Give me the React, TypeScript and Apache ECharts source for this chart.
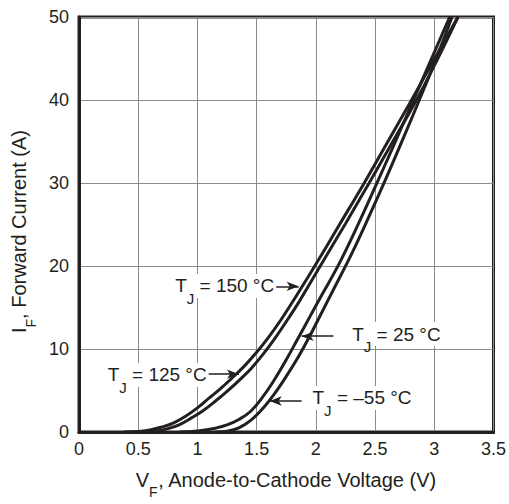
import React, { useEffect, useRef } from "react";
import * as echarts from "echarts";

// Forward voltage (V) and current (A) for each junction temperature
const V_150 = [0.38, 0.5, 0.6, 0.7, 0.8, 0.9, 1.0, 1.1, 1.2, 1.3, 1.4, 1.5, 1.6, 1.7, 1.8, 1.9, 2.0, 2.2, 2.4, 2.6, 2.8, 3.0, 3.2];
const I_150 = [0, 0.05, 0.25, 0.6, 1.1, 1.9, 2.9, 4.1, 5.3, 6.6, 8.0, 9.6, 11.4, 13.4, 15.6, 17.9, 20.2, 25, 29.8, 34.8, 39.8, 44.9, 50];

const V_125 = [0.55, 0.65, 0.75, 0.85, 0.95, 1.05, 1.15, 1.25, 1.35, 1.45, 1.55, 1.65, 1.75, 1.85, 1.95, 2.05, 2.25, 2.45, 2.65, 2.85, 3.03, 3.2];
const I_125 = [0, 0.1, 0.4, 0.9, 1.7, 2.6, 3.7, 4.9, 6.2, 7.6, 9.3, 11.2, 13.3, 15.5, 17.9, 20.3, 25.1, 30, 35, 40, 45, 50];

const V_25 = [0.85, 0.95, 1.05, 1.15, 1.25, 1.35, 1.45, 1.55, 1.65, 1.75, 1.85, 1.95, 2.05, 2.19, 2.35, 2.5, 2.65, 2.8, 2.95, 3.13];
const I_25 = [0, 0.05, 0.2, 0.45, 0.85, 1.5, 2.5, 4.2, 6.3, 8.7, 11.3, 13.9, 16.5, 20.1, 24.8, 29.5, 34.3, 39.2, 44.1, 50];

const V_M55 = [1.15, 1.25, 1.35, 1.45, 1.55, 1.65, 1.75, 1.85, 1.95, 2.05, 2.15, 2.3, 2.45, 2.6, 2.75, 2.9, 3.03, 3.15];
const I_M55 = [0, 0.1, 0.5, 1.4, 2.8, 4.6, 6.7, 9.0, 11.6, 14.4, 17.2, 21.4, 26.0, 30.8, 35.8, 40.9, 45.5, 50];

// Axis ticks
const X_MIN = 0, X_MAX = 3.5, X_STEP = 0.5;
const Y_MIN = 0, Y_MAX = 50, Y_STEP = 10;

// Annotation labels: temperature text, text centre [V, I], arrow from/to [V, I]
const ANN_TEMPS = ["150 °C", "125 °C", "25 °C", "–55 °C"];
const ANN_TEXT_AT = [[1.23, 17.6], [0.66, 6.9], [2.68, 11.8], [2.39, 4.1]];
const ANN_ARROW_FROM = [[1.62, 17.55], [1.083, 6.97], [2.149, 11.54], [1.88, 3.73]];
const ANN_ARROW_TO = [[1.855, 17.55], [1.351, 6.97], [1.88, 11.54], [1.61, 3.73]];
const ANN_SERIES = [0, 1, 2, 3];

const INK = "#231f20";
const FONT = "'Liberation Sans', Arial, Helvetica, sans-serif";

function zip(v: number[], i: number[]) {
  return v.map((x, k) => [x, i[k]]);
}

export default function App() {
  const ref = useRef<HTMLDivElement>(null);
  useEffect(() => {
    document.body.style.margin = "0";
    if (!ref.current) return;
    const chart = echarts.init(ref.current, undefined, { renderer: "svg" });
    const curves = [zip(V_150, I_150), zip(V_125, I_125), zip(V_25, I_25), zip(V_M55, I_M55)];
    const rich = {
      t: { fontSize: 19, fontFamily: FONT, color: INK, lineHeight: 24, verticalAlign: "middle" },
      s: { fontSize: 15, fontFamily: FONT, color: INK, lineHeight: 12, verticalAlign: "bottom", padding: [0, 0, -8, 0] },
    };
    const series = curves.map((data, idx) => {
      const annIdx = ANN_SERIES.indexOf(idx);
      const s: any = {
        type: "line",
        data,
        smooth: 0.4,
        showSymbol: false,
        symbol: "none",
        lineStyle: { color: INK, width: 3 },
        z: 3,
      };
      if (annIdx >= 0) {
        s.markLine = {
          silent: true,
          symbol: ["none", "arrow"],
          symbolSize: [7, 12],
          label: { show: false },
          lineStyle: { color: INK, width: 1.5, type: "solid" },
          data: [[{ coord: ANN_ARROW_FROM[annIdx] }, { coord: ANN_ARROW_TO[annIdx] }]],
          z: 5,
        };
        s.markPoint = {
          silent: true,
          symbol: "circle",
          symbolSize: 0,
          data: [
            {
              coord: ANN_TEXT_AT[annIdx],
              label: {
                show: true,
                position: "inside",
                formatter: `{t|T}{s|J}{t| = ${ANN_TEMPS[annIdx]}}`,
                rich,
                backgroundColor: "#fff",
                padding: [0, 2, 0, 2],
              },
            },
          ],
          z: 6,
        };
      }
      return s;
    });
    const nameRich = {
      m: { fontSize: 20, fontFamily: FONT, color: INK, lineHeight: 22, verticalAlign: "middle" },
      s: { fontSize: 14, fontFamily: FONT, color: INK, lineHeight: 10, verticalAlign: "bottom", padding: [0, 0, -8, 0] },
    };
    chart.setOption({
      animation: false,
      textStyle: { fontFamily: FONT },
      grid: {
        left: 79,
        right: 13,
        top: 17,
        bottom: 71,
        show: true,
        borderColor: INK,
        borderWidth: 3,
        backgroundColor: "transparent",
      },
      xAxis: {
        type: "value",
        min: X_MIN,
        max: X_MAX,
        interval: X_STEP,
        axisLine: { show: true, lineStyle: { color: INK, width: 3 } },
        axisTick: { show: false },
        axisLabel: { color: INK, fontSize: 18, fontFamily: FONT, margin: 8 },
        splitLine: { show: true, lineStyle: { color: "#8a8a8a", width: 1 } },
        name: "{m|V}{s|F}{m|, Anode-to-Cathode Voltage (V)}",
        nameLocation: "middle",
        nameGap: 37,
        nameTextStyle: { rich: nameRich },
      },
      yAxis: {
        type: "value",
        min: Y_MIN,
        max: Y_MAX,
        interval: Y_STEP,
        axisLine: { show: true, lineStyle: { color: INK, width: 3 } },
        axisTick: { show: false },
        axisLabel: { color: INK, fontSize: 18, fontFamily: FONT, margin: 10 },
        splitLine: { show: true, lineStyle: { color: "#8a8a8a", width: 1 } },
        name: "{m|I}{s|F}{m|, Forward Current (A)}",
        nameLocation: "middle",
        nameGap: 43,
        nameRotate: 90,
        nameTextStyle: { rich: nameRich, padding: [0, 14, 0, 0] },
      },
      series,
    });
    return () => chart.dispose();
  }, []);
  return <div ref={ref} style={{ width: 509, height: 504 }} />;
}
